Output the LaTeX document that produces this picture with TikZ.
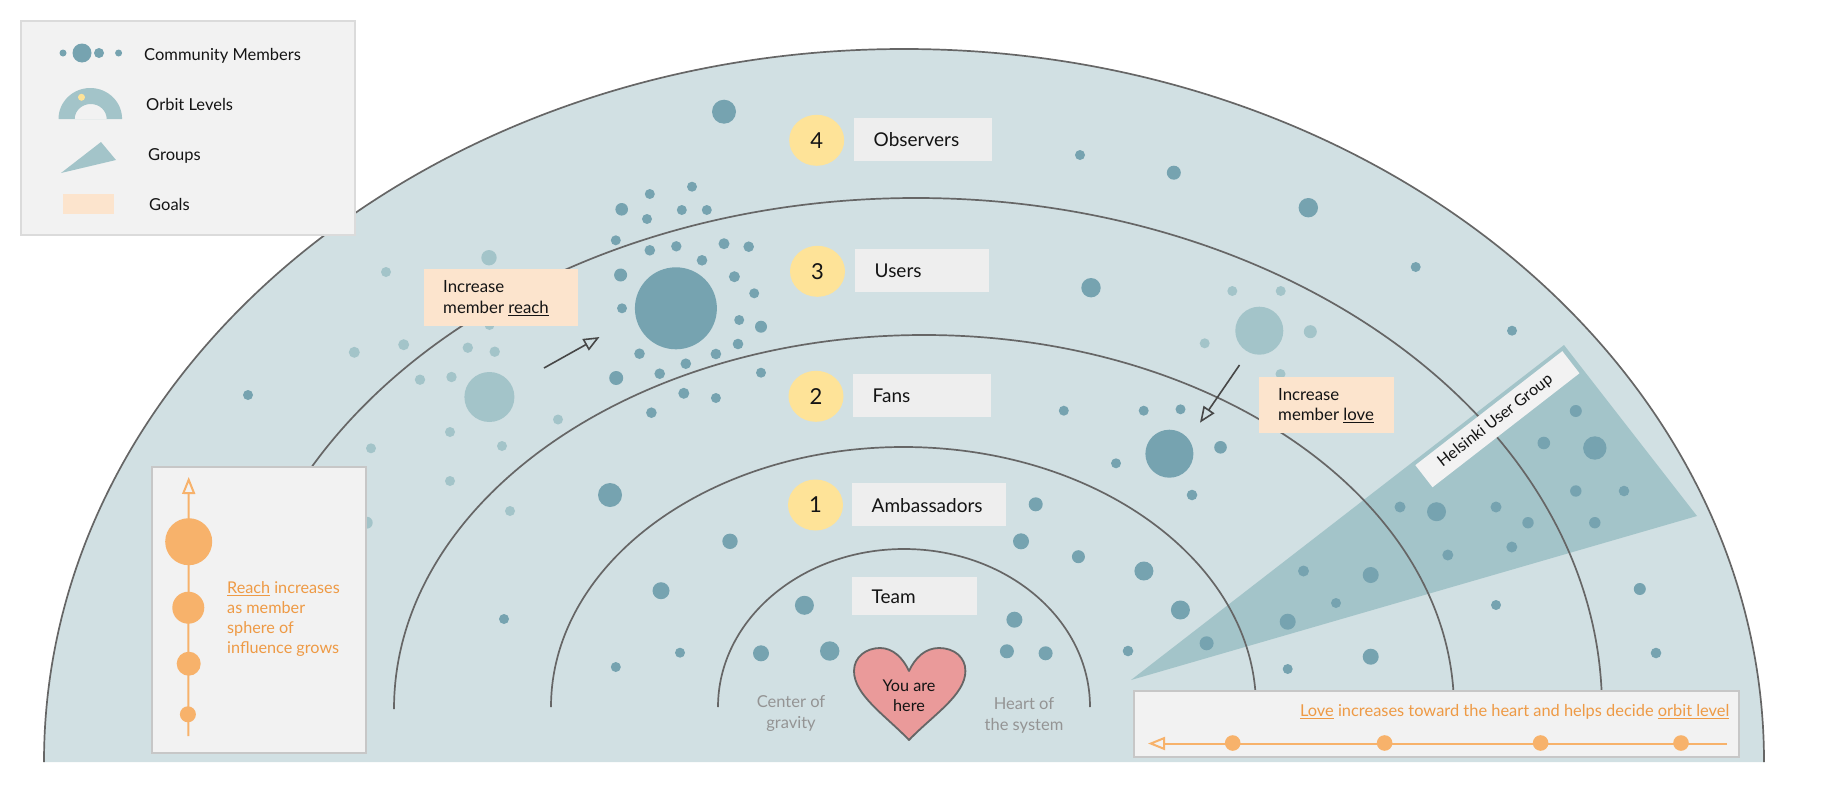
\documentclass[tikz,border=0pt]{standalone}
\usepackage{fontspec}
\setmainfont{Lato}
\usetikzlibrary{arrows.meta,shapes.geometric}
\definecolor{bgteal}{HTML}{D1E0E3}
\definecolor{lightteal}{HTML}{A3C4C9}
\definecolor{darkteal}{HTML}{76A3B0}
\definecolor{orbitline}{HTML}{666666}
\definecolor{panelfill}{HTML}{F2F2F2}
\definecolor{labelfill}{HTML}{EEEEEE}
\definecolor{goalfill}{HTML}{FCE4CD}
\definecolor{numfill}{HTML}{FEE398}
\definecolor{orangefill}{HTML}{F7B26B}
\definecolor{orangetext}{HTML}{EE9A45}
\definecolor{heartfill}{HTML}{EA9A9A}
\tikzset{
  x=1pt,y=-1pt,
  txt/.style={font=\fontsize{16.5}{20}\selectfont,text=black!92,inner sep=0pt},
  legendtxt/.style={txt,anchor=west},
  panel/.style={draw=#1,line width=2pt,fill=panelfill},
  orbit/.style={draw=orbitline,line width=1.7pt},
  lvl/.style={rectangle,fill=labelfill,anchor=west,inner xsep=19.5pt,inner ysep=0pt,align=left,
    font=\fontsize{19}{20}\selectfont,text=black!92,text height=15pt,text depth=0.2pt},
  num/.style={ellipse,fill=numfill,inner sep=0pt,minimum width=55pt,minimum height=51pt,
    font=\fontsize{22}{24}\selectfont,text=black!92},
  goalbox/.style={rectangle,fill=goalfill,anchor=north west,inner sep=0pt},
  goaltxt/.style={anchor=west,inner sep=0pt,align=left,font=\fontsize{16.8}{20.5}\selectfont,text=black!92},
  graytxt/.style={align=center,font=\fontsize{16.5}{21}\selectfont,text=black!42,inner sep=0pt},
  dkarrow/.style={draw=black!72,line width=1.6pt,-{Triangle[open,length=16pt,width=13pt]}},
  orarrow/.style={draw=orangefill,line width=2pt,-{Triangle[open,length=17pt,width=13pt]}},
  orangetxt/.style={text=orangetext,inner sep=0pt,font=\fontsize{16.2}{20}\selectfont},
}
\begin{document}
\begin{tikzpicture}
\useasboundingbox (0,0) rectangle (1827,787);
\fill[white] (0,0) rectangle (1827,787);
% field
\fill[bgteal] (44,762) arc[start angle=180,end angle=0,x radius=860pt,y radius=713pt] -- cycle;
\draw[orbit] (44,762) arc[start angle=180,end angle=0,x radius=860pt,y radius=713pt];
% group wedge
\fill[lightteal] (1131,680) -- (1564,345) -- (1697,516) -- cycle;
% orbits
\draw[orbit] (230,709) arc[start angle=180,end angle=0,x radius=686pt,y radius=511pt];
\draw[orbit] (394,709) arc[start angle=180,end angle=0,x radius=530pt,y radius=374pt];
\draw[orbit] (551,707) arc[start angle=180,end angle=0,x radius=352.5pt,y radius=260pt];
\draw[orbit] (718,707) arc[start angle=180,end angle=0,x radius=186pt,y radius=158pt];
% faded members
\foreach \x/\y/\r in {
 1232.3/291/5,1280.7/291/5,1259.3/330.7/24,1310.3/331.7/6.5,1204.7/343.3/5,1280.5/374/5,
 489/257.7/7.7,386/272/5,489.5/325/5,403.7/344.7/5.5,354.3/352.3/5.5,467.8/347.7/5.2,
 494.7/351.7/5.2,420/379.7/5.2,451.5/377/5.2,489.4/397/25,450/432/5,502/446/5,
 371/448.3/5,450/481/5,510/511/5,366.7/522.7/6,558/419.5/5}
  \fill[lightteal] (\x,\y) circle[radius=\r pt];
% members
\foreach \x/\y/\r in {
 724/111.7/12,1080/155/5,1173.8/172.7/7,1091/287.7/9.7,1308.3/207.7/9.7,1415.7/267/5,1512/330.7/5,
 692/186.7/5,649.8/194/5,621.7/209.3/6.3,647/219/5,681.8/210/5,706.8/210/5,615.8/240.3/5,
 649.8/250.3/5.3,676.3/246.3/5.2,724/243.7/5.5,748.7/246.7/5.3,702/260.3/5.3,620.6/275/6.5,
 734.4/276.7/5.5,754.2/293.3/5,622/308.3/5,675.9/308.3/41,739.2/320/5,761/326.7/6,738/344/5.3,
 715.9/354/5.3,685.8/363.7/5.3,639.5/353.7/5.3,659.7/373.7/5.3,616.2/378/7,761/372.7/5,
 683.8/393.3/5.5,715.9/398/5,651.4/412.7/5.3,248/395/5,
 1063.8/410.7/5,1143.7/410.7/5,1180.5/409.3/5,1169.4/453.7/24,1116/463.3/5,1220.5/447.3/6.3,1192/495/5.3,
 1575.8/411/6,1543.8/443/6.3,1594.8/448/11.7,1575.8/491/5.7,1624/491/5.3,1594.8/522.7/5.7,
 1496/507/5.5,1528/522.7/5.7,1511.8/547/5.5,1447.8/555/5.5,1436.5/511.7/9.5,1400/507/5.5,
 1370.7/575/8,1303.5/571/5.5,1336/603/5,1287.7/621.7/8,1206.6/643.3/7,1128/651/5.3,1370.7/656.7/8,
 1287.7/669/5,1496/605/5,1639.8/589/6,1656/653/5.3,1143.9/571/9.5,1180.4/610/9.5,
 610/495/12,730/541.3/7.7,661/590.7/8.5,804.4/605.3/9.5,761/653.3/8,829.7/651/9.7,680/652.7/5,615.8/667/5,
 1035.7/504.3/7,1021/541.3/8,1078.4/556.7/6.5,1014.4/619.7/8,1006.9/651.3/7,1045.6/653.3/7,504/619/5}
  \fill[darkteal] (\x,\y) circle[radius=\r pt];
% goals
\node[goalbox,minimum width=154.5pt,minimum height=57pt] (reachgoal) at (423.5,269) {};
\node[goaltxt] (reachgoaltxt) at (443,298) {Increase\\member \underline{reach}};
\node[goalbox,minimum width=134.8pt,minimum height=55.7pt] (lovegoal) at (1258.9,377) {};
\node[goaltxt] (lovegoaltxt) at (1278,405.3) {Increase\\member \underline{love}};
\coordinate (reachstart) at (544,368);
\coordinate (reachtarget) at (599.5,337);
\coordinate (lovestart) at (1239.5,365);
\coordinate (lovetarget) at (1200,422.7);
\draw[dkarrow] (reachstart) -- (reachtarget);
\draw[dkarrow] (lovestart) -- (lovetarget);
% group label
\node[rectangle,fill=panelfill,rotate=37.8,minimum width=186pt,minimum height=28pt,inner sep=0pt,
  font=\fontsize{16}{20}\selectfont,text=black!92] (grouplabel) at (1497.4,419.2) {Helsinki User Group\hspace*{5pt}};
% levels
\node[num] (n4) at (816.7,140.3) {4};
\node[num] (n3) at (817.5,271.3) {3};
\node[num] (n2) at (816,396.3) {2};
\node[num] (n1) at (815.5,505) {1};
\node[lvl,minimum width=138pt,minimum height=42.7pt,text width=99pt] (observers) at (854,139.3) {Observers};
\node[lvl,minimum width=134pt,minimum height=42.7pt,text width=95pt] (users) at (855,270.3) {Users};
\node[lvl,minimum width=138pt,minimum height=42.7pt,text width=99pt] (fans) at (853,395.3) {Fans};
\node[lvl,minimum width=154pt,minimum height=43pt,text width=115pt] (ambassadors) at (852,504.8) {Ambassadors};
\node[lvl,minimum width=125pt,minimum height=38pt,text width=86pt] (team) at (852,596.3) {Team};
% heart
\path[fill=heartfill,draw=orbitline,line width=1.8pt,line join=round] (909,740)
  .. controls (885,715) and (854,695) .. (854,671)
  .. controls (854,657) and (866,648) .. (880,648)
  .. controls (893,648) and (903,658) .. (909,671)
  .. controls (915,658) and (925,648) .. (939,648)
  .. controls (954,648) and (965.4,657) .. (965.4,671)
  .. controls (965.4,695) and (933,715) .. (909,740) -- cycle;
\node[align=center,font=\fontsize{16.2}{20}\selectfont,text=black!92,inner sep=0pt] (here) at (909,695.5) {You are\\here};
\node[graytxt] (gravity) at (791,713.5) {Center of\\gravity};
\node[graytxt] (hearttxt) at (1024,715) {Heart of\\the system};
% legend
\draw[panel=black!14] (20.5,20.7) rectangle (355,235);
\foreach \x/\y/\r in {63/53/3.5,82/53/9.5,99/53/5,118.6/53/3.5}
  \fill[darkteal] (\x,\y) circle[radius=\r pt];
\fill[lightteal,even odd rule] (58.5,119) arc[start angle=180,end angle=0,x radius=31.8pt,y radius=31pt] -- cycle
  (74.7,119) arc[start angle=180,end angle=0,x radius=16pt,y radius=15pt] -- cycle;
\fill[numfill] (81.5,97.3) circle[radius=3.5pt];
\fill[lightteal] (61,173) -- (101,142) -- (116,160) -- cycle;
\fill[goalfill] (63,194) rectangle (114,214);
\node[legendtxt] (lg1) at (144,56) {Community Members};
\node[legendtxt] (lg2) at (146,104.5) {Orbit Levels};
\node[legendtxt] (lg3) at (148,156) {Groups};
\node[legendtxt] (lg4) at (149,204.5) {Goals};
% reach panel
\draw[panel=black!22] (152,467) rectangle (366,753);
\coordinate (reachlow) at (188.3,736);
\coordinate (reachhigh) at (188.7,477);
\draw[orarrow] (reachlow) -- (reachhigh);
\fill[orangefill] (188.7,541.7) circle[radius=23.5pt];
\fill[orangefill] (188.3,607.7) circle[radius=16pt];
\fill[orangefill] (188.7,663.7) circle[radius=12pt];
\fill[orangefill] (187.9,714.3) circle[radius=8pt];
\node[orangetxt,anchor=west,align=left] (reachtxt) at (227,619.5) {\underline{Reach} increases\\as member\\sphere of\\influence grows};
% love panel
\draw[panel=black!22] (1134.4,690.7) rectangle (1738.6,757);
\coordinate (loveright) at (1727,743.5);
\coordinate (loveleft) at (1148,743.5);
\draw[orarrow] (loveright) -- (loveleft);
\foreach \x in {1232.7,1384.6,1540.6,1681}
  \fill[orangefill] (\x,743) circle[radius=7.8pt];
\node[orangetxt,anchor=east,font=\fontsize{16.4}{20}\selectfont] (lovetxt) at (1729.6,712) {\underline{Love} increases toward the heart and helps decide \underline{orbit level}};
\end{tikzpicture}
\end{document}
